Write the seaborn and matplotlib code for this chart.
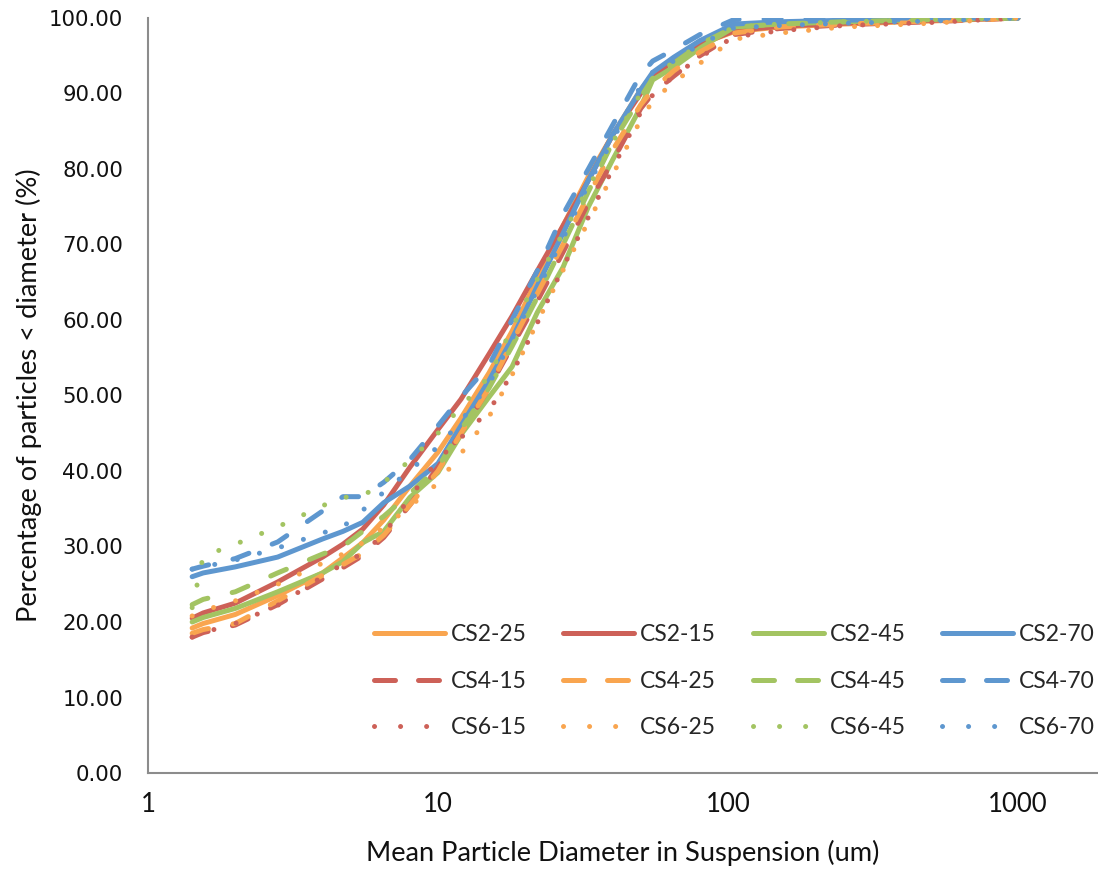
import matplotlib
matplotlib.use("Agg")
import matplotlib.pyplot as plt
from matplotlib.lines import Line2D
import seaborn as sns
from matplotlib.ticker import FixedLocator, NullLocator, FuncFormatter

# ---------------- data ----------------
diameter_um = [1.42, 1.55, 2.0, 2.8, 4.0, 4.7, 5.5, 6.5, 8.0, 10, 12, 15, 18, 22, 27, 33,
               40, 50, 55, 65, 80, 105, 150, 250, 500, 1000]

cs2_25 = [19.2, 19.8, 21.0, 23.5, 26.5, 28.5, 30.5, 33.5, 38.0, 42.5, 47.0, 53.0, 58.5,
          65.5, 72.5, 79.0, 84.5, 90.5, 92.5, 94.5, 96.5, 98.2, 98.8, 99.2, 99.6, 100.0]
cs2_15 = [20.5, 21.2, 22.5, 25.3, 28.6, 30.3, 32.3, 35.5, 40.5, 45.5, 49.5, 55.5, 60.5,
          66.5, 72.5, 78.5, 84.5, 90.0, 92.0, 94.5, 96.5, 98.3, 98.9, 99.3, 99.7, 100.0]
cs2_45 = [20.0, 20.6, 21.8, 24.0, 26.5, 28.0, 30.5, 32.0, 36.5, 39.8, 44.8, 49.8, 53.8,
          61.0, 67.0, 75.0, 81.2, 88.2, 91.8, 93.5, 96.0, 98.8, 99.2, 99.5, 99.8, 100.0]
cs2_70 = [26.0, 26.5, 27.3, 28.6, 31.0, 32.0, 33.2, 35.8, 38.0, 41.0, 46.0, 52.0, 57.5,
          64.5, 71.5, 78.5, 84.5, 90.5, 92.8, 94.8, 97.0, 99.2, 99.5, 99.7, 99.9, 100.0]
cs4_15 = [18.0, 18.6, 19.6, 22.3, 25.7, 27.2, 28.8, 31.2, 35.5, 40.5, 45.0, 51.0, 56.5,
          62.5, 69.0, 75.5, 81.0, 88.0, 90.0, 92.3, 95.0, 97.8, 98.6, 99.1, 99.5, 100.0]
cs4_25 = [18.5, 19.0, 19.8, 22.8, 26.2, 27.6, 29.1, 31.5, 35.5, 40.0, 45.0, 51.0, 57.0,
          63.5, 70.0, 76.5, 82.5, 88.5, 90.5, 93.0, 95.5, 98.0, 98.8, 99.2, 99.6, 100.0]
cs4_45 = [22.3, 23.0, 24.0, 26.5, 29.0, 30.0, 32.0, 34.0, 37.0, 40.5, 45.5, 51.0, 56.5,
          63.0, 70.0, 77.0, 83.5, 89.5, 92.0, 94.0, 96.5, 98.8, 99.2, 99.5, 99.8, 100.0]
cs4_70 = [27.0, 27.4, 28.4, 30.6, 34.7, 36.6, 36.6, 38.5, 41.5, 46.0, 49.8, 54.0, 60.0,
          66.5, 74.0, 80.0, 85.8, 92.5, 94.3, 95.8, 97.8, 99.8, 99.9, 100.0, 100.0, 100.0]
cs6_15 = [18.0, 18.6, 19.8, 22.2, 26.0, 27.7, 29.1, 31.6, 36.5, 41.5, 44.4, 48.0, 52.9,
          59.6, 67.0, 73.6, 80.0, 87.5, 89.8, 92.3, 94.8, 97.5, 98.3, 99.0, 99.4, 100.0]
cs6_25 = [20.8, 21.5, 22.8, 25.0, 27.8, 29.0, 30.5, 32.5, 35.3, 38.4, 42.3, 47.2, 52.7,
          59.7, 66.6, 73.0, 79.2, 86.5, 89.0, 91.5, 94.0, 97.2, 98.0, 98.8, 99.3, 100.0]
cs6_45 = [21.9, 28.7, 30.3, 32.6, 35.4, 36.5, 36.7, 38.5, 41.4, 45.0, 48.5, 52.5, 59.0,
          65.4, 71.5, 77.5, 83.5, 90.0, 92.0, 94.2, 96.5, 98.8, 99.2, 99.5, 99.8, 100.0]
cs6_70 = [27.0, 27.3, 28.2, 29.8, 31.8, 32.6, 34.8, 37.2, 40.1, 43.2, 46.6, 51.5, 57.5,
          64.0, 70.8, 78.0, 83.8, 91.0, 92.8, 94.3, 96.5, 98.7, 99.0, 99.3, 99.6, 100.0]

series_names = ["CS2-25", "CS2-15", "CS2-45", "CS2-70",
                "CS4-15", "CS4-25", "CS4-45", "CS4-70",
                "CS6-15", "CS6-25", "CS6-45", "CS6-70"]
series_values = [cs2_25, cs2_15, cs2_45, cs2_70,
                 cs4_15, cs4_25, cs4_45, cs4_70,
                 cs6_15, cs6_25, cs6_45, cs6_70]

y_ticks = [0, 10, 20, 30, 40, 50, 60, 70, 80, 90, 100]
x_ticks = [1, 10, 100, 1000]
x_label = "Mean Particle Diameter in Suspension (um)"
y_label = "Percentage of particles < diameter (%)"

# ---------------- style ----------------
ORANGE = "#F9A54F"
RED = "#CD6158"
GREEN = "#A3C462"
BLUE = "#5E97CF"
color_of = {"15": RED, "25": ORANGE, "45": GREEN, "70": BLUE}

LW = 3.6
style_of = {
    "CS2": dict(linestyle="-", solid_capstyle="round", solid_joinstyle="round"),
    "CS4": dict(linestyle=(0, (3.4, 5.0)), dash_capstyle="round", dash_joinstyle="round"),
    "CS6": dict(linestyle=(0, (0.01, 4.6)), dash_capstyle="round", dash_joinstyle="round"),
}
legend_style_of = {
    "CS2": dict(linestyle="-", solid_capstyle="round"),
    "CS4": dict(linestyle=(0, (4.2, 4.6)), dash_capstyle="round"),
    "CS6": dict(linestyle=(0, (0.01, 5.2)), dash_capstyle="round"),
}

sns.set_style("white")
plt.rcParams["font.family"] = ["Lato", "DejaVu Sans"]

fig = plt.figure(figsize=(10.98, 8.71), dpi=100)
ax = fig.add_axes([148 / 1098, 1 - 773 / 871, (1098 - 148) / 1098, (773 - 18) / 871])

for name, vals in zip(series_names, series_values):
    prefix, suffix = name.split("-")
    sns.lineplot(x=diameter_um, y=vals, ax=ax, color=color_of[suffix], linewidth=LW,
                 sort=False, estimator=None, **style_of[prefix])

ax.set_xscale("log")
ax.set_xlim(1, 1888)
ax.set_ylim(0, 100)

ax.xaxis.set_major_locator(FixedLocator(x_ticks))
ax.xaxis.set_minor_locator(NullLocator())
ax.xaxis.set_major_formatter(FuncFormatter(lambda v, p: f"{v:g}"))
ax.set_yticks(y_ticks)
ax.yaxis.set_major_formatter(FuncFormatter(lambda v, p: f"{v:.2f}"))

for side in ["top", "right"]:
    ax.spines[side].set_visible(False)
for side in ["left", "bottom"]:
    ax.spines[side].set_color("#8C8C8C")
    ax.spines[side].set_linewidth(1.5)

ax.tick_params(axis="both", which="major", direction="out", length=6, width=1.3,
               color="#8C8C8C")
ax.tick_params(axis="y", pad=12, labelsize=15.3, labelcolor="#111111")
ax.tick_params(axis="x", pad=8, labelsize=18.5, labelcolor="#111111")
for t in ax.get_yticklabels():
    t.set_family("DejaVu Sans")

ax.set_xlabel(x_label, fontsize=19.6, color="#111111", labelpad=16)
ax.set_ylabel(y_label, fontsize=19.6, color="#111111", labelpad=5)

# legend: rows CS2 / CS4 / CS6 (column-major order for matplotlib)
rows = [series_names[0:4], series_names[4:8], series_names[8:12]]
order = [rows[r][c] for c in range(4) for r in range(3)]
proxies = []
for n in order:
    prefix, suffix = n.split("-")
    proxies.append(Line2D([], [], color=color_of[suffix], linewidth=LW,
                          **legend_style_of[prefix]))
ax.legend(proxies, order, ncol=4, frameon=False,
          loc="upper left", bbox_to_anchor=(374 / 1098, 1 - 624 / 871),
          bbox_transform=fig.transFigure, fontsize=16.5, handlelength=3.1,
          handletextpad=0.25, columnspacing=1.6, labelspacing=1.12,
          borderpad=0, borderaxespad=0)

fig.savefig("out.png", dpi=100, facecolor="white")
